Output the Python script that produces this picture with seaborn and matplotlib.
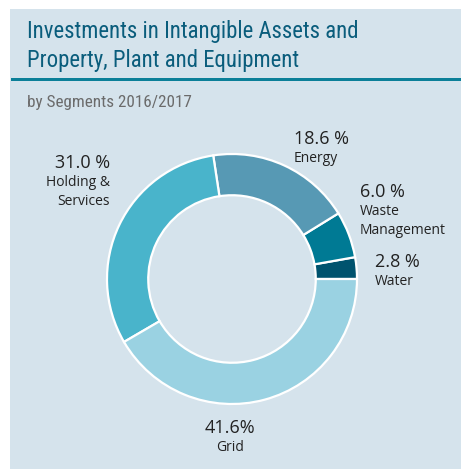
import matplotlib
matplotlib.use("Agg")
import matplotlib.pyplot as plt
import seaborn as sns
from matplotlib.patches import Rectangle

# segment data (counter-clockwise from 3 o'clock)
segments = ["Water", "Waste Management", "Energy", "Holding & Services", "Grid"]
shares = [2.8, 6.0, 18.6, 31.0, 41.6]
pct_labels = ["2.8 %", "6.0 %", "18.6 %", "31.0 %", "41.6%"]
name_labels = ["Water", "Waste\nManagement", "Energy", "Holding &\nServices", "Grid"]
colors = ["#00536e", "#007a94", "#5799b4", "#49b4cb", "#9ad2e2"]

title_lines = ["Investments in Intangible Assets and", "Property, Plant and Equipment"]
subtitle = "by Segments 2016/2017"

sns.set_style("white")
plt.rcParams["font.family"] = ["Open Sans", "DejaVu Sans"]
narrow = ["Roboto Condensed", "Liberation Sans Narrow", "Open Sans Condensed", "Roboto"]

W, H = 461, 469
fig = plt.figure(figsize=(W / 100, H / 100), dpi=100, facecolor="white")


def fx(x):
    return x / W


def fy(y):
    return 1 - y / H


# panel background
fig.patches.append(Rectangle((fx(10), 0), 1 - fx(10), fy(9), transform=fig.transFigure,
                             facecolor="#d5e3ec", edgecolor="none", zorder=-2))
# separator under title
fig.patches.append(Rectangle((fx(11), fy(81.5)), 1 - fx(11), 3 / H, transform=fig.transFigure,
                             facecolor="#0b7f98", edgecolor="none", zorder=-1))

for i, line in enumerate(title_lines):
    fig.text(fx(27), fy(38 + 29 * i), line, ha="left", va="baseline", fontsize=16.4,
             color="#0a5d7c", family=narrow)
fig.text(fx(27), fy(107), subtitle, ha="left", va="baseline", fontsize=12.3,
         color="#6b6b6b", family=narrow)

# donut
cx, cy, r = 232, 279, 125
ax = fig.add_axes([fx(cx - r), fy(cy + r), 2 * r / W, 2 * r / H])
ax.set_facecolor("none")
ax.pie(shares, colors=sns.color_palette(colors), startangle=0, counterclock=True,
       radius=1, wedgeprops=dict(width=0.33, edgecolor="white", linewidth=1.6))
ax.set_xlim(-1, 1)
ax.set_ylim(-1, 1)
ax.axis("off")

# label positions (pixels, top-left origin) and alignment
label_pos = [(375, 262, "left"), (360, 192, "left"), (294, 139, "left"),
             (110, 163, "right"), (230, 428, "center")]
for (x, y, ha), p, n in zip(label_pos, pct_labels, name_labels):
    fig.text(fx(x), fy(y), p, ha=ha, va="center", fontsize=13, color="#222222")
    fig.text(fx(x), fy(y + 12), n, ha=ha, va="top", fontsize=10, color="#222222",
             linespacing=1.35)

fig.savefig("out.png", dpi=100, facecolor="white")
